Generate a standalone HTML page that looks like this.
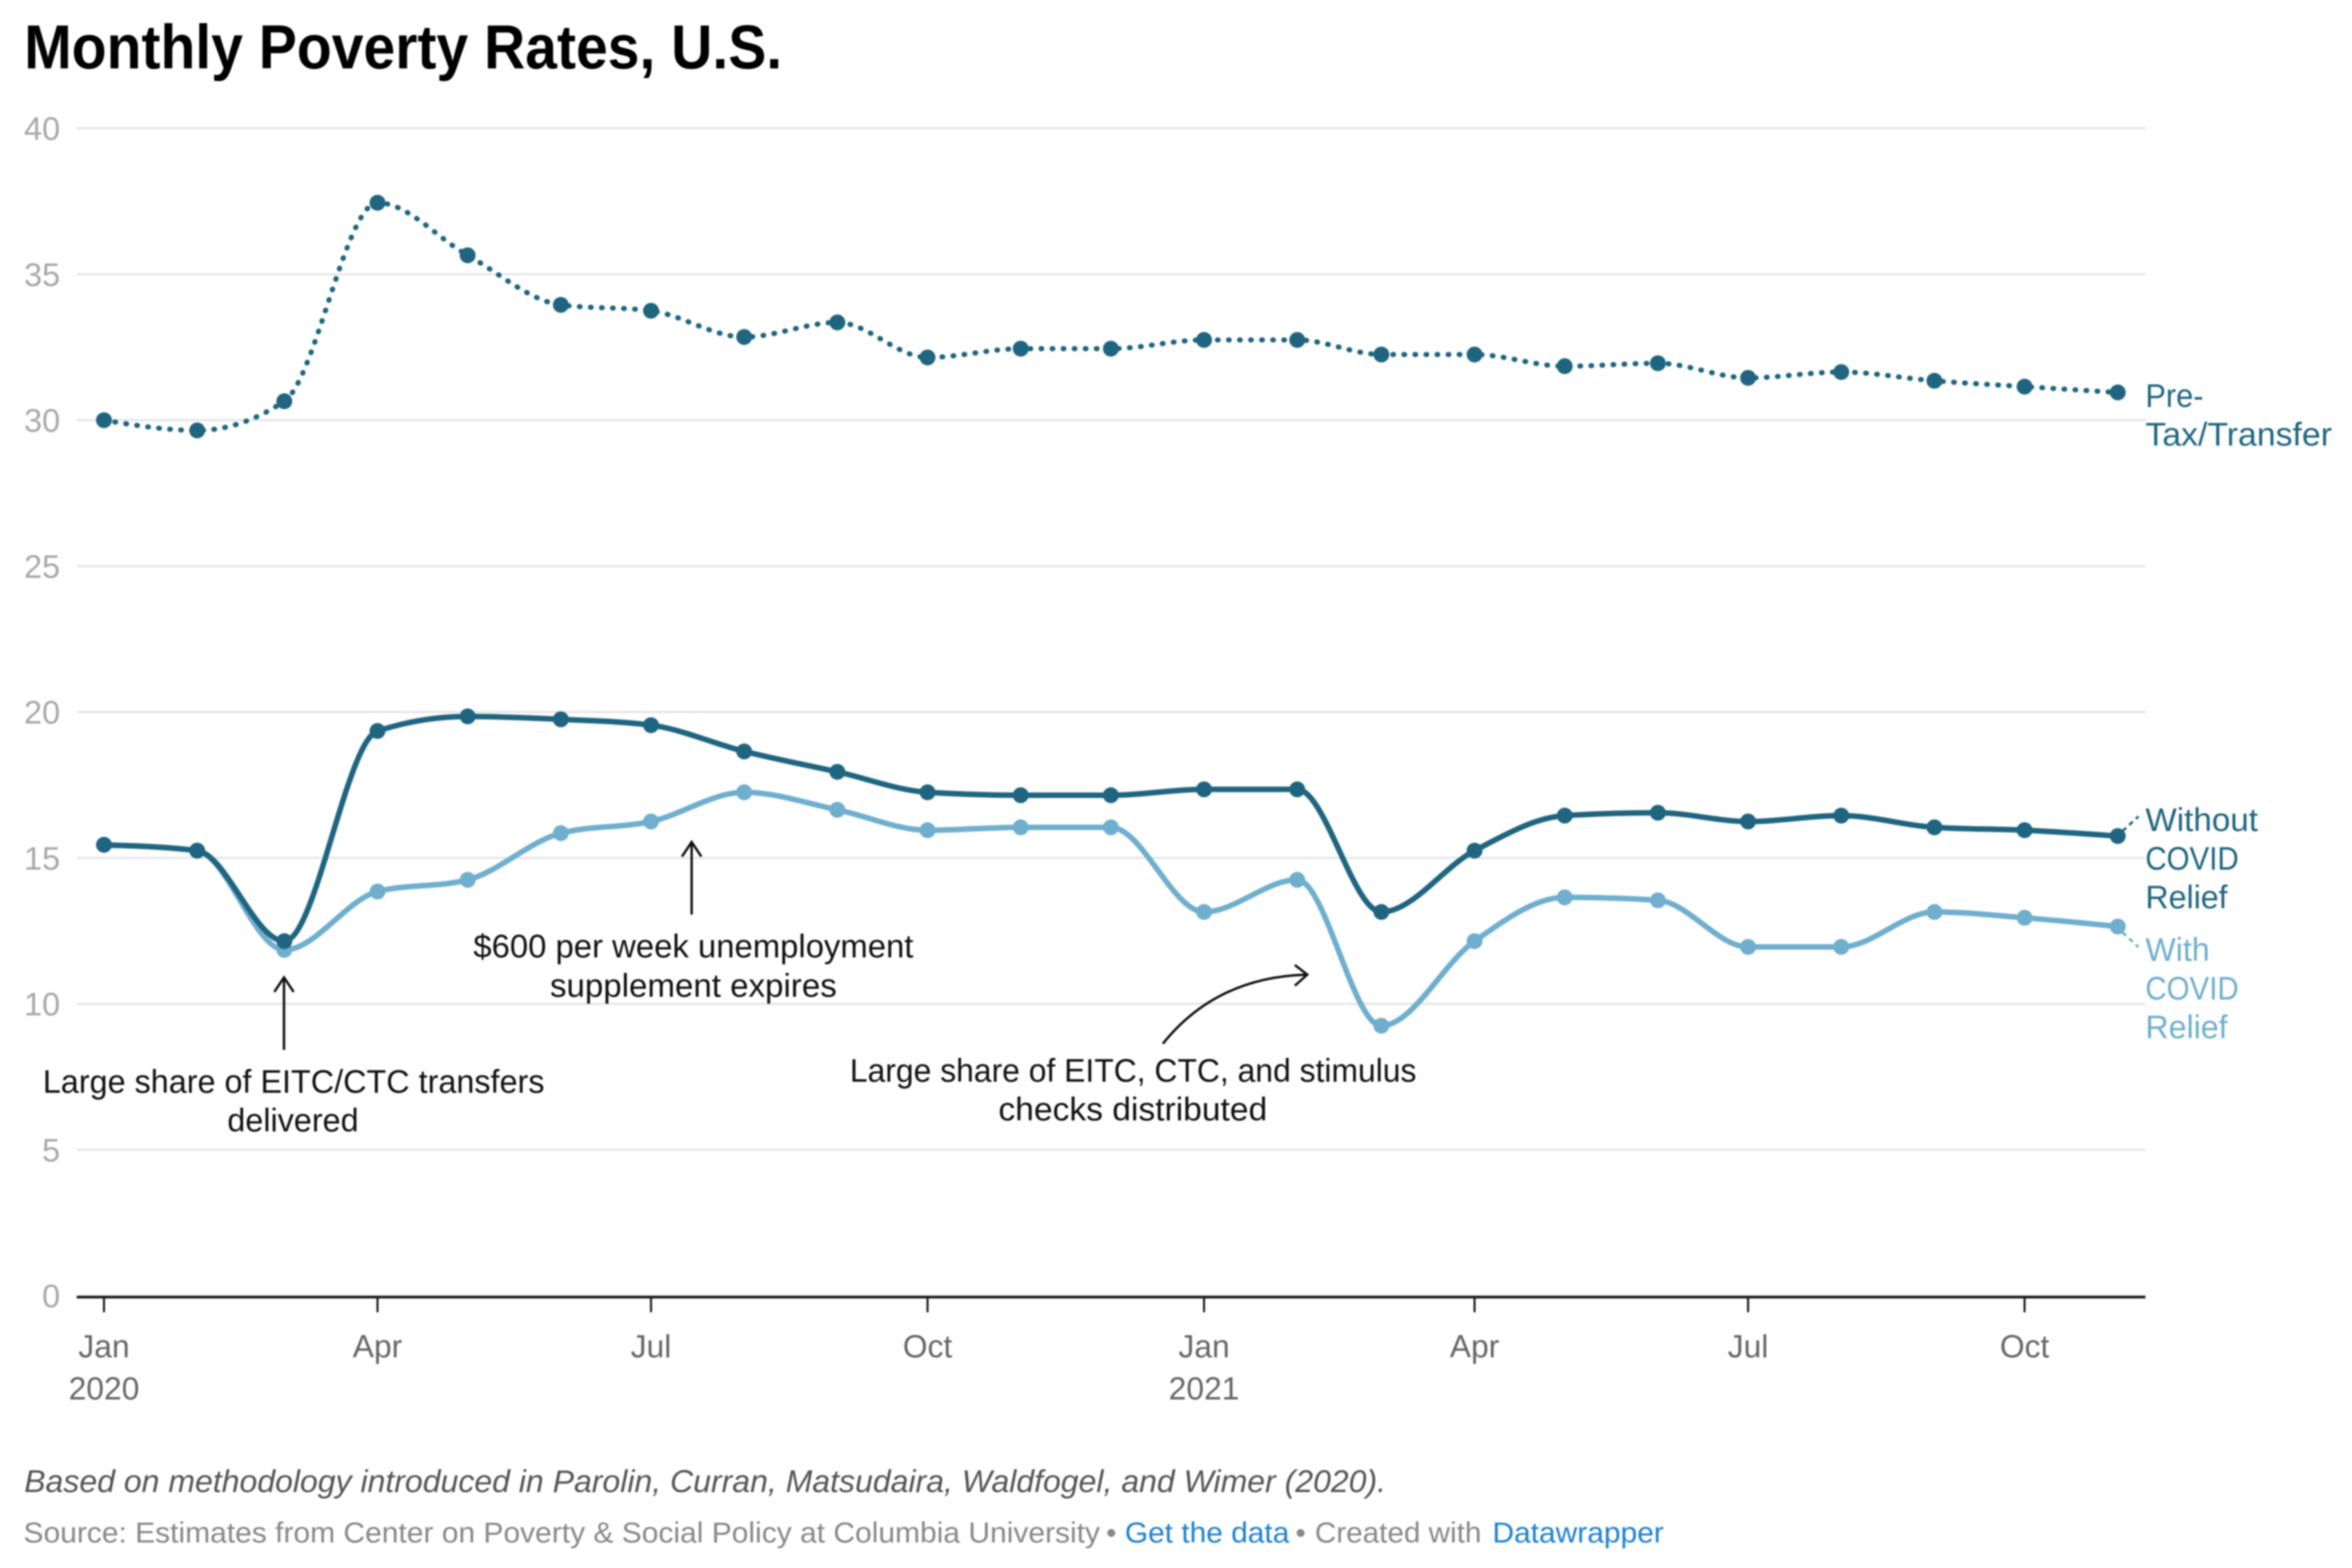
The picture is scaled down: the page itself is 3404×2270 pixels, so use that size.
<!DOCTYPE html>
<html lang="en">
<head>
<meta charset="utf-8">
<title>Monthly Poverty Rates, U.S.</title>
<style>
html,body{margin:0;padding:0;background:#fff;}
body{width:3404px;height:2270px;overflow:hidden;}
svg{display:block;filter:blur(1px);font-family:"Liberation Sans",sans-serif;}
a{cursor:pointer;}
</style>
</head>
<body>
<svg id="chart" xmlns="http://www.w3.org/2000/svg" width="3404" height="2270" viewBox="0 0 3404 2270">
  <rect width="3404" height="2270" fill="#ffffff"/>
  <text x="35" y="99" font-size="90" font-weight="700" fill="#000" textLength="1097" lengthAdjust="spacingAndGlyphs">Monthly Poverty Rates, U.S.</text>
  <g id="grid"></g>
  <g id="yticks"></g>
  <g id="series" transform="translate(0,-2)"></g>
  <g id="xaxis"></g>

  <g font-size="47" fill="#111111">
    <text x="62" y="1582" textLength="726" lengthAdjust="spacingAndGlyphs">Large share of EITC/CTC transfers</text>
    <text x="329" y="1638" textLength="190" lengthAdjust="spacingAndGlyphs">delivered</text>
    <text x="685" y="1386" textLength="637" lengthAdjust="spacingAndGlyphs">$600 per week unemployment</text>
    <text x="796" y="1443" textLength="415" lengthAdjust="spacingAndGlyphs">supplement expires</text>
    <text x="1230" y="1566" textLength="820" lengthAdjust="spacingAndGlyphs">Large share of EITC, CTC, and stimulus</text>
    <text x="1445" y="1622" textLength="389" lengthAdjust="spacingAndGlyphs">checks distributed</text>
    <g fill="none" stroke="#111111" stroke-width="3.5">
      <path d="M411 1520V1415M397 1436L411 1415L425 1436"/>
      <path d="M1001 1324V1219M987 1240L1001 1219L1015 1240"/>
      <path d="M1683 1511Q1760 1415 1890 1411M1874 1397L1892 1411L1874 1427"/>
    </g>
  </g>

  <g font-size="47">
    <text x="3105" y="589" fill="#1f6580" textLength="84" lengthAdjust="spacingAndGlyphs">Pre-</text>
    <text x="3105" y="645" fill="#1f6580" textLength="270" lengthAdjust="spacingAndGlyphs">Tax/Transfer</text>
    <text x="3105" y="1203" fill="#1f6580" textLength="163" lengthAdjust="spacingAndGlyphs">Without</text>
    <text x="3105" y="1259" fill="#1f6580" textLength="135" lengthAdjust="spacingAndGlyphs">COVID</text>
    <text x="3105" y="1315" fill="#1f6580" textLength="119" lengthAdjust="spacingAndGlyphs">Relief</text>
    <text x="3105" y="1391" fill="#6fafcd" textLength="93" lengthAdjust="spacingAndGlyphs">With</text>
    <text x="3105" y="1447" fill="#6fafcd" textLength="135" lengthAdjust="spacingAndGlyphs">COVID</text>
    <text x="3105" y="1503" fill="#6fafcd" textLength="119" lengthAdjust="spacingAndGlyphs">Relief</text>
    <path d="M3072 1203L3095 1182" stroke="#1f6580" stroke-width="3.5" stroke-dasharray="7 6" fill="none"/>
    <path d="M3072 1350L3095 1371" stroke="#6fafcd" stroke-width="3.5" stroke-dasharray="7 6" fill="none"/>
  </g>

  <text x="35" y="2160" font-size="45" font-style="italic" fill="#555" textLength="1971" lengthAdjust="spacingAndGlyphs">Based on methodology introduced in Parolin, Curran, Matsudaira, Waldfogel, and Wimer (2020).</text>
  <g font-size="42" fill="#888">
    <text x="34" y="2233" textLength="1558" lengthAdjust="spacingAndGlyphs">Source: Estimates from Center on Poverty &amp; Social Policy at Columbia University</text>
    <text x="1601" y="2233">•</text>
    <a><text x="1628" y="2233" fill="#1d81d2" textLength="238" lengthAdjust="spacingAndGlyphs">Get the data</text></a>
    <text x="1875" y="2233">•</text>
    <text x="1903" y="2233" textLength="241" lengthAdjust="spacingAndGlyphs">Created with</text>
    <a><text x="2160" y="2233" fill="#1d81d2" textLength="248" lengthAdjust="spacingAndGlyphs">Datawrapper</text></a>
  </g>
</svg>

<script>
const months = ['2020-01','2020-02','2020-03','2020-04','2020-05','2020-06','2020-07','2020-08','2020-09','2020-10','2020-11','2020-12','2021-01','2021-02','2021-03','2021-04','2021-05','2021-06','2021-07','2021-08','2021-09','2021-10','2021-11'];
const preTaxTransfer = [29.95,29.6,30.6,37.4,35.6,33.9,33.7,32.8,33.3,32.1,32.4,32.4,32.7,32.7,32.2,32.2,31.8,31.9,31.4,31.6,31.3,31.1,30.9];
const withoutCovidRelief = [15.4,15.2,12.1,19.3,19.8,19.7,19.5,18.6,17.9,17.2,17.1,17.1,17.3,17.3,13.1,15.2,16.4,16.5,16.2,16.4,16.0,15.9,15.7];
const withCovidRelief = [15.4,15.2,11.8,13.8,14.2,15.8,16.2,17.2,16.6,15.9,16.0,16.0,13.1,14.2,9.2,12.1,13.6,13.5,11.9,11.9,13.1,12.9,12.6];
const yTicks = [0,5,10,15,20,25,30,35,40];
const xTickMonths = ['2020-01','2020-04','2020-07','2020-10','2021-01','2021-04','2021-07','2021-10'];
const xTickLabels = ['Jan','Apr','Jul','Oct','Jan','Apr','Jul','Oct'];
const xTickYears = ['2020','','','','2021','','',''];

const NS = 'http://www.w3.org/2000/svg';
const plotLeft = 111, plotRight = 3105;
const xLeft = 150.5, xRight = 3065, yZero = 1875.7, yForty = 185.7;

function toDay(m) {
  const p = m.split('-');
  return Date.UTC(+p[0], +p[1] - 1, 1) / 86400000;
}
const dayStart = toDay(months[0]);
const dayEnd = toDay(months[months.length - 1]);
function xScale(m) { return xLeft + (toDay(m) - dayStart) / (dayEnd - dayStart) * (xRight - xLeft); }
function yScale(v) { return yZero + (yForty - yZero) * v / 40; }

function make(tag, attrs, parent) {
  const el = document.createElementNS(NS, tag);
  for (const k in attrs) el.setAttribute(k, attrs[k]);
  parent.appendChild(el);
  return el;
}

/* monotone-X curve */
function monotonePath(xs, ys) {
  const n = xs.length, h = [], s = [], t = new Array(n);
  for (let i = 0; i < n - 1; i++) { h[i] = xs[i + 1] - xs[i]; s[i] = (ys[i + 1] - ys[i]) / h[i]; }
  const sign = v => v < 0 ? -1 : 1;
  for (let i = 1; i < n - 1; i++) {
    const p = (s[i - 1] * h[i] + s[i] * h[i - 1]) / (h[i - 1] + h[i]);
    t[i] = (sign(s[i - 1]) + sign(s[i])) * Math.min(Math.abs(s[i - 1]), Math.abs(s[i]), 0.5 * Math.abs(p)) || 0;
  }
  t[0] = (3 * s[0] - t[1]) / 2;
  t[n - 1] = (3 * s[n - 2] - t[n - 2]) / 2;
  let d = 'M' + xs[0].toFixed(1) + ' ' + ys[0].toFixed(1);
  for (let i = 0; i < n - 1; i++) {
    const dx = h[i] / 3;
    d += 'C' + (xs[i] + dx).toFixed(1) + ' ' + (ys[i] + dx * t[i]).toFixed(1) + ' ' +
         (xs[i + 1] - dx).toFixed(1) + ' ' + (ys[i + 1] - dx * t[i + 1]).toFixed(1) + ' ' +
         xs[i + 1].toFixed(1) + ' ' + ys[i + 1].toFixed(1);
  }
  return d;
}

/* grid and y labels */
const gridG = document.getElementById('grid');
const yTickG = document.getElementById('yticks');
yTicks.forEach(function (v) {
  if (v > 0) {
    const line = make('line', {x1: plotLeft, x2: plotRight, y1: yScale(v), y2: yScale(v), stroke: '#e6e6e6', 'stroke-width': 3}, gridG);
    
    
  }
  const label = make('text', {x: 87, y: yScale(v) + 17, 'text-anchor': 'end', 'font-size': 47, fill: '#a8a8a8'}, yTickG);
  
  
  label.textContent = String(v);
});

/* series */
const seriesG = document.getElementById('series');
function drawSeries(values, color, width, dash, name) {
  const xs = months.map(xScale);
  const ys = values.map(yScale);
  const g = make('g', {}, seriesG);
  
  
  const attrs = {d: monotonePath(xs, ys), fill: 'none', stroke: color, 'stroke-width': width};
  if (dash) { attrs['stroke-dasharray'] = dash; attrs['stroke-linecap'] = 'round'; }
  const path = make('path', attrs, g);
  
  
  xs.forEach(function (x, i) {
    const dot = make('circle', {cx: x, cy: ys[i], r: 11.5, fill: color}, g);
    
    
  });
}
drawSeries(preTaxTransfer, '#1f6580', 7.5, '1 15', 'pre-tax-transfer-series');
drawSeries(withCovidRelief, '#6fafcd', 8, '', 'with-covid-relief-series');
drawSeries(withoutCovidRelief, '#1f6580', 8, '', 'without-covid-relief-series');

/* x axis */
const xG = document.getElementById('xaxis');
const baseline = make('line', {x1: plotLeft, x2: plotRight, y1: yZero + 2, y2: yZero + 2, stroke: '#1a1a1a', 'stroke-width': 4}, xG);


xTickMonths.forEach(function (m, i) {
  const x = xScale(m);
  const tick = make('line', {x1: x, x2: x, y1: yZero + 2, y2: yZero + 24, stroke: '#1a1a1a', 'stroke-width': 3}, xG);
  
  
  const label = make('text', {x: x, y: 1965, 'text-anchor': 'middle', 'font-size': 46, fill: '#666666'}, xG);
  
  
  label.textContent = xTickLabels[i];
  if (xTickYears[i]) {
    const year = make('text', {x: x, y: 2026, 'text-anchor': 'middle', 'font-size': 46, fill: '#666666'}, xG);
    
    
    year.textContent = xTickYears[i];
  }
});
</script>
</body>
</html>
